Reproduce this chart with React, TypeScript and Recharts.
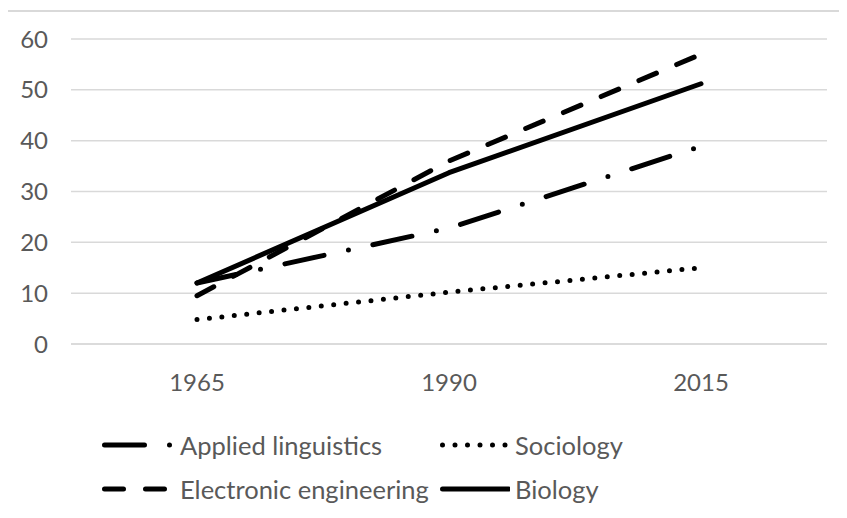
import { LineChart, Line, XAxis, YAxis, CartesianGrid } from 'recharts'

const years = ['1965', '1990', '2015']
const appliedLinguistics = [12, 22.8, 38.9]
const sociology = [4.8, 10.2, 15]
const electronicEngineering = [9.5, 36, 57]
const biology = [12, 33.7, 51.2]
const yTicks = [0, 10, 20, 30, 40, 50, 60]

const seriesNames = {
  applied: 'Applied linguistics',
  sociology: 'Sociology',
  electronic: 'Electronic engineering',
  biology: 'Biology',
}

// dash patterns imitate the Excel line styles
const dashes: Record<string, string | undefined> = {
  applied: '40 25 0 25',
  sociology: '0 12.5',
  electronic: '19 22',
  biology: undefined,
}

const data = years.map((year, i) => ({
  year,
  applied: appliedLinguistics[i],
  sociology: sociology[i],
  electronic: electronicEngineering[i],
  biology: biology[i],
}))

// legend order as in the picture, two per row
const legendOrder = ['applied', 'sociology', 'electronic', 'biology'] as const

const FONT = 'Lato, "Open Sans", sans-serif'
const TEXT = '#595959'
const GRID = '#d9d9d9'
const LINE_W = 5

function LegendSymbol({ dash }: { dash?: string }) {
  return (
    <svg width={70} height={10} style={{ display: 'block' }}>
      <line
        x1={2.5}
        y1={5}
        x2={68.5}
        y2={5}
        stroke="#000"
        strokeWidth={LINE_W}
        strokeLinecap="round"
        strokeDasharray={dash}
      />
    </svg>
  )
}

export default function App() {
  return (
    <div
      style={{
        position: 'relative',
        width: 847,
        height: 518,
        marginLeft: -8,
        marginTop: -8,
        overflow: 'hidden',
        background: '#fff',
      }}
    >
      <div
        style={{
          position: 'absolute',
          left: 6,
          top: 10,
          width: 900,
          height: 600,
          borderLeft: `2px solid ${GRID}`,
          borderTop: `2px solid ${GRID}`,
        }}
      />
      <div style={{ position: 'absolute', left: 0, top: 0 }}>
        <LineChart
          width={847}
          height={518}
          data={data}
          margin={{ top: 39, right: 20, left: 0, bottom: 114 }}
        >
          <CartesianGrid stroke={GRID} strokeWidth={1.5} vertical={false} />
          <XAxis
            dataKey="year"
            height={60}
            padding={{ left: 126, right: 126 }}
            axisLine={{ stroke: GRID, strokeWidth: 1.5 }}
            tickLine={false}
            tickSize={0}
            tickMargin={30}
            tick={{ fill: TEXT, fontSize: 24, fontFamily: FONT }}
          />
          <YAxis
            width={71}
            domain={[0, 60]}
            ticks={yTicks}
            axisLine={false}
            tickLine={false}
            tickSize={0}
            tickMargin={23}
            tick={{ fill: TEXT, fontSize: 24, fontFamily: FONT }}
          />
          {legendOrder.map((key) => (
            <Line
              key={key}
              type="linear"
              dataKey={key}
              name={seriesNames[key]}
              stroke="#000"
              strokeWidth={LINE_W}
              strokeDasharray={dashes[key]}
              strokeLinecap="round"
              strokeLinejoin="round"
              dot={false}
              activeDot={false}
              isAnimationActive={false}
            />
          ))}
        </LineChart>
      </div>
      <div
        style={{
          position: 'absolute',
          left: 102,
          top: 423,
          display: 'grid',
          gridTemplateColumns: '338px auto',
          gridAutoRows: '44px',
          fontFamily: FONT,
          fontSize: 25.5,
          color: TEXT,
        }}
      >
        {legendOrder.map((key) => (
          <div key={key} style={{ display: 'flex', alignItems: 'center' }}>
            <LegendSymbol dash={dashes[key]} />
            <span style={{ marginLeft: key === 'applied' || key === 'electronic' ? 8 : 5 }}>
              {seriesNames[key]}
            </span>
          </div>
        ))}
      </div>
    </div>
  )
}
